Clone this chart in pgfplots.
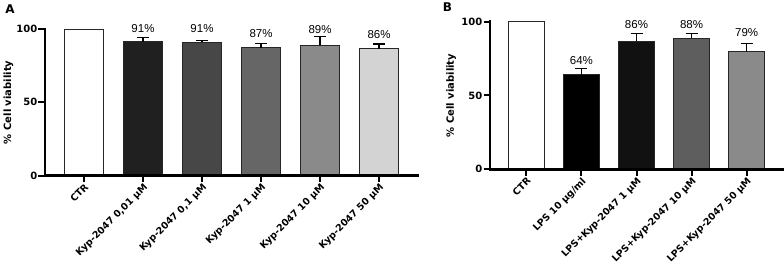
\documentclass[border=0pt]{standalone}
\usepackage{pgfplots}
\pgfplotsset{compat=1.18}
\usepackage{fontspec}
\setmainfont{DejaVu Sans}
\newfontfamily\helv{Liberation Sans}
\definecolor{aone}{HTML}{202020}
\definecolor{atwo}{HTML}{474747}
\definecolor{athree}{HTML}{666666}
\definecolor{afour}{HTML}{8A8A8A}
\definecolor{afive}{HTML}{D3D3D3}
\definecolor{bone}{HTML}{000000}
\definecolor{btwo}{HTML}{111111}
\definecolor{bthree}{HTML}{5E5E5E}
\definecolor{bfour}{HTML}{8A8A8A}
\pgfplotsset{
  cellax/.style={
    scale only axis, anchor=south west,
    axis lines*=left, axis line style={line width=2.6pt, line cap=rect, -},
    axis on top,
    ymin=0, ymax=100, ytick={0,50,100},
    enlargelimits=false,
    tick align=outside, major tick length=6.5pt,
    every tick/.style={black, line width=2pt},
    /pgf/number format/assume math mode=true,
    yticklabel style={font=\bfseries\fontsize{10}{12}\selectfont, inner sep=1pt},
    xticklabel style={font=\bfseries\fontsize{9.5}{11}\selectfont, rotate=45, anchor=north east, inner sep=0.5pt},
    ylabel={\% Cell viability},
    clip=false,
  },
  bb/.style={ybar, bar width=0.66, bar shift=0pt, draw=black!85, line width=0.8pt, fill=#1,
    error bars/.cd, y dir=plus, y explicit,
    error bar style={line width=1.4pt, black},
    error mark options={rotate=90, mark size=6pt, line width=1.4pt, black}},
  pl/.style={draw=none, nodes near coords, point meta=explicit symbolic,
    every node near coord/.append style={font=\helv\fontsize{11.5}{13}\selectfont, inner sep=0pt, anchor=south}},
}
\begin{document}
\begin{tikzpicture}
\path[use as bounding box] (0pt,0pt) rectangle (784pt,267pt);
\begin{axis}[cellax, at={(45pt,91.3pt)}, width=373pt, height=146.7pt,
  xmin=-0.66, xmax=5.66, xtick={0,...,5},
  xticklabels={CTR, {Kyp-2047 0,01 µM}, {Kyp-2047 0,1 µM}, {Kyp-2047 1 µM}, {Kyp-2047 10 µM}, {Kyp-2047 50 µM}},
  every axis y label/.style={at={(axis description cs:-0.098,0.5)}, rotate=90, anchor=center, font=\bfseries\fontsize{10}{12}\selectfont},
]
\addplot[bb=white] coordinates {(0,100)};
\addplot[bb=aone] coordinates {(1,91.3) +- (0,2.8)};
\addplot[bb=atwo] coordinates {(2,91.1) +- (0,1.2)};
\addplot[bb=athree] coordinates {(3,87.3) +- (0,2.7)};
\addplot[bb=afour] coordinates {(4,89.1) +- (0,5.9)};
\addplot[bb=afive] coordinates {(5,86.6) +- (0,3.2)};
\addplot[pl] coordinates {(1,97.5)[91\%] (2,97.5)[91\%] (3,93.7)[87\%] (4,97)[89\%] (5,93)[86\%]};
\end{axis}
\begin{axis}[cellax, at={(490pt,97.7pt)}, width=293pt, height=147.6pt,
  xmin=-0.66, xmax=4.66, xtick={0,...,4},
  xticklabels={CTR, {LPS 10 µg/ml}, {LPS+Kyp-2047 1 µM}, {LPS+Kyp-2047 10 µM}, {LPS+Kyp-2047 50 µM}},
  every axis y label/.style={at={(axis description cs:-0.133,0.5)}, rotate=90, anchor=center, font=\bfseries\fontsize{10}{12}\selectfont},
]
\addplot[bb=white] coordinates {(0,100)};
\addplot[bb=bone] coordinates {(1,64.1) +- (0,4.3)};
\addplot[bb=btwo] coordinates {(2,86.9) +- (0,5.2)};
\addplot[bb=bthree] coordinates {(3,88.7) +- (0,3.2)};
\addplot[bb=bfour] coordinates {(4,79.7) +- (0,5.4)};
\addplot[pl] coordinates {(1,71.1)[64\%] (2,95.5)[86\%] (3,95.3)[88\%] (4,89.8)[79\%]};
\end{axis}
\node[font=\bfseries\fontsize{12}{14}\selectfont] at (10pt,258pt) {A};
\node[font=\bfseries\fontsize{12}{14}\selectfont] at (447.5pt,260pt) {B};
\end{tikzpicture}
\end{document}
